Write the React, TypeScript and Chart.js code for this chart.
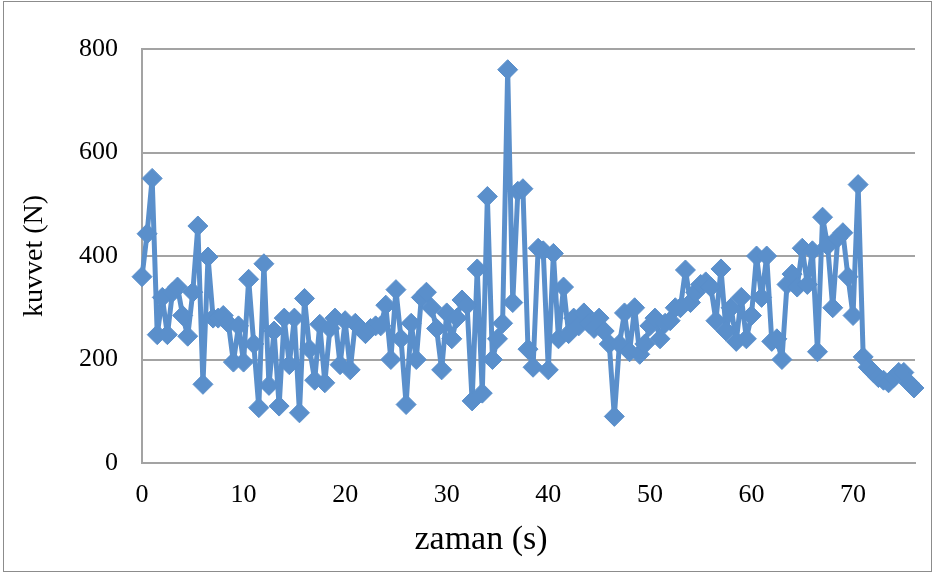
import React, { useEffect, useRef } from "react";
import { Chart, registerables } from "chart.js";

Chart.register(...registerables);

// zaman (s)
const times: number[] = [
  0, 0.5, 1, 1.5, 2, 2.5, 3, 3.5, 4, 4.5, 5, 5.5, 6, 6.5, 7, 7.5, 8, 8.5, 9, 9.5,
  10, 10.5, 11, 11.5, 12, 12.5, 13, 13.5, 14, 14.5, 15, 15.5, 16, 16.5, 17, 17.5, 18, 18.5, 19, 19.5,
  20, 20.5, 21, 21.5, 22, 22.5, 23, 23.5, 24, 24.5, 25, 25.5, 26, 26.5, 27, 27.5, 28, 28.5, 29, 29.5,
  30, 30.5, 31, 31.5, 32, 32.5, 33, 33.5, 34, 34.5, 35, 35.5, 36, 36.5, 37, 37.5, 38, 38.5, 39, 39.5,
  40, 40.5, 41, 41.5, 42, 42.5, 43, 43.5, 44, 44.5, 45, 45.5, 46, 46.5, 47, 47.5, 48, 48.5, 49, 49.5,
  50, 50.5, 51, 51.5, 52, 52.5, 53, 53.5, 54, 54.5, 55, 55.5, 56, 56.5, 57, 57.5, 58, 58.5, 59, 59.5,
  60, 60.5, 61, 61.5, 62, 62.5, 63, 63.5, 64, 64.5, 65, 65.5, 66, 66.5, 67, 67.5, 68, 68.5, 69, 69.5,
  70, 70.5, 71, 71.5, 72, 72.5, 73, 73.5, 74, 74.5, 75, 75.5, 76,
];

// kuvvet (N)
const forces: number[] = [
  360, 443, 550, 248, 320, 248, 330, 340, 285, 245, 330, 458, 152, 398, 280, 280, 285, 270, 195, 265,
  195, 355, 230, 107, 385, 150, 255, 110, 280, 190, 280, 97, 318, 220, 160, 268, 155, 260, 280, 190,
  275, 180, 270, 260, 250, 260, 265, 265, 305, 200, 335, 240, 113, 270, 200, 320, 330, 300, 260, 180,
  290, 240, 280, 315, 305, 120, 375, 135, 515, 200, 240, 270, 760, 310, 525, 530, 220, 185, 415, 410,
  180, 405, 240, 340, 250, 280, 265, 290, 270, 260, 280, 255, 230, 90, 230, 290, 215, 300, 210, 230,
  265, 280, 240, 270, 275, 300, 300, 373, 310, 330, 345, 350, 340, 275, 375, 255, 300, 235, 320, 240,
  285, 400, 320, 400, 235, 240, 200, 345, 365, 340, 415, 345, 410, 215, 475, 420, 300, 435, 445, 360,
  285, 538, 205, 185, 175, 165, 160, 155, 165, 175, 175, 155, 145,
];

const xTickValues: number[] = [0, 10, 20, 30, 40, 50, 60, 70];
const yTickValues: number[] = [0, 200, 400, 600, 800];

const xTitle = "zaman (s)";
const yTitle = "kuvvet (N)";

const BLUE = "#5A8FCB";
const GRID = "#A3A3A3";
const FONT = "'Liberation Serif', 'DejaVu Serif', serif";

const xTitlePlugin = {
  id: "xTitleOffset",
  afterDraw(chart: any) {
    const ctx = chart.ctx as CanvasRenderingContext2D;
    ctx.save();
    ctx.fillStyle = "#000";
    ctx.font = `34px ${FONT}`;
    ctx.textAlign = "center";
    ctx.textBaseline = "middle";
    ctx.fillText(xTitle, 481, 540);
    ctx.restore();
  },
};

export default function App() {
  const ref = useRef<HTMLCanvasElement>(null);

  useEffect(() => {
    if (!ref.current) return;
    const points = times.map((t, i) => ({ x: t, y: forces[i] }));
    const chart = new Chart(ref.current, {
      type: "line",
      data: {
        datasets: [
          {
            data: points,
            borderColor: BLUE,
            backgroundColor: BLUE,
            borderWidth: 5,
            borderJoinStyle: "round",
            borderCapStyle: "round",
            pointStyle: "rectRot",
            pointRadius: 10,
            pointBorderWidth: 1,
            pointBackgroundColor: BLUE,
            pointBorderColor: BLUE,
            tension: 0,
            clip: false as any,
          },
        ],
      },
      plugins: [xTitlePlugin],
      options: {
        animation: false,
        responsive: false,
        maintainAspectRatio: false,
        layout: { padding: { left: 4, right: 21, top: 49, bottom: 0 } },
        plugins: { legend: { display: false }, tooltip: { enabled: false } },
        scales: {
          x: {
            type: "linear",
            min: 0,
            max: 76.1,
            afterFit: (s: any) => {
              s.height = 112;
            },
            afterBuildTicks: (s: any) => {
              s.ticks = xTickValues.map((v) => ({ value: v }));
            },
            ticks: {
              stepSize: 10,
              includeBounds: false,
              color: "#000",
              padding: 17,
              maxRotation: 0,
              font: { family: FONT, size: 26 },
            },
            grid: { display: false, drawTicks: false },
            border: { display: true, color: GRID, width: 2 },
            title: { display: false },
          },
          y: {
            min: 0,
            max: 800,
            afterFit: (s: any) => {
              s.width = 138;
            },
            afterBuildTicks: (s: any) => {
              s.ticks = yTickValues.map((v) => ({ value: v }));
            },
            ticks: {
              stepSize: 200,
              color: "#000",
              padding: 24,
              font: { family: FONT, size: 26 },
            },
            grid: { color: GRID, lineWidth: 2, drawTicks: false },
            border: { display: true, color: GRID, width: 2 },
            title: {
              display: true,
              text: yTitle,
              color: "#000",
              font: { family: FONT, size: 28 },
              padding: { top: 14, bottom: 0 },
            },
          },
        },
      },
    });
    return () => chart.destroy();
  }, []);

  return (
    <div style={{ position: "fixed", left: 0, top: 0, width: 936, height: 575, background: "#fff" }}>
      <div
        style={{
          position: "absolute",
          left: 3,
          top: 1,
          width: 929,
          height: 571,
          border: "1px solid #8C8C8C",
          boxSizing: "border-box",
        }}
      />
      <canvas ref={ref} width={936} height={575} style={{ position: "absolute", left: 0, top: 0 }} />
    </div>
  );
}
